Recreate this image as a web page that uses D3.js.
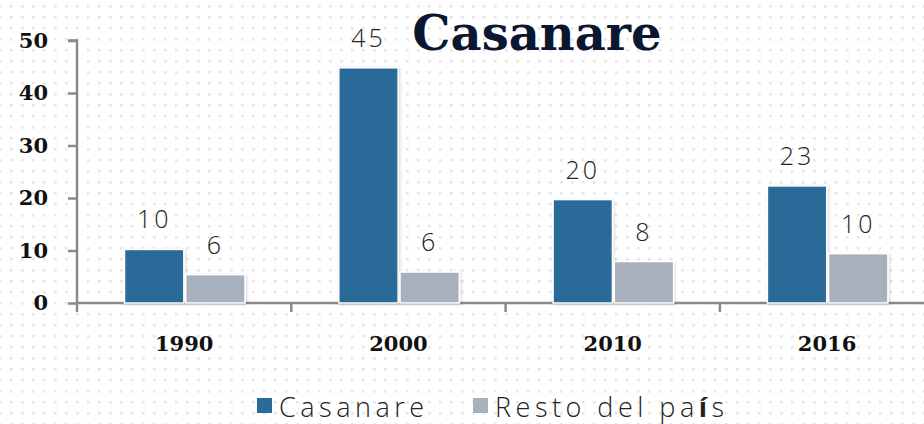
<!DOCTYPE html>
<html>
<head>
<meta charset="utf-8">
<script src="https://cdn.jsdelivr.net/npm/d3@7"></script>
<style>
  html, body { margin: 0; padding: 0; background: #fff; }
  svg { display: block; }
</style>
</head>
<body>
<div id="chart"></div>
<script>
// data
var years = ["1990", "2000", "2010", "2016"];
var seriesNames = ["Casanare", "Resto del país"];
var casanare = [10.2, 44.8, 19.7, 22.3];
var resto = [5.4, 5.9, 7.9, 9.4];
var casanareLabels = ["10", "45", "20", "23"];
var restoLabels = ["6", "6", "8", "10"];
var yTicks = [0, 10, 20, 30, 40, 50];
var colors = ["#2b6a99", "#a9b0bd"];

var width = 924;
var height = 424;

var svg = d3.select("#chart")
  .append("svg")
  .attr("width", width)
  .attr("height", height);

var defs = svg.append("defs");

// dotted background
var pat = defs.append("pattern")
  .attr("id", "dots")
  .attr("patternUnits", "userSpaceOnUse")
  .attr("x", 10).attr("y", 5)
  .attr("width", 11).attr("height", 11);
pat.append("rect").attr("width", 3).attr("height", 3).attr("fill", "#f1f1f1");
pat.append("rect").attr("width", 2).attr("height", 2).attr("fill", "#e6e6e6");

// faint shadow under bars
var f = defs.append("filter").attr("id", "shadow")
  .attr("x", "-20%").attr("y", "-20%").attr("width", "140%").attr("height", "140%");
f.append("feDropShadow")
  .attr("dx", 1).attr("dy", 1).attr("stdDeviation", 1.5)
  .attr("flood-color", "#000").attr("flood-opacity", 0.18);

svg.append("rect")
  .attr("width", width).attr("height", height)
  .attr("fill", "#fff");
svg.append("rect")
  .attr("width", width).attr("height", height)
  .attr("fill", "url(#dots)");

// scales
var y = d3.scaleLinear().domain([0, 50]).range([303, 40.5]);
var x0 = d3.scaleBand().domain(years).range([77, 77 + 214.3 * 4]);
var x1 = d3.scaleBand().domain(seriesNames).range([47.5, 168]).paddingInner(0.03);

// y axis
var yAxis = svg.append("g")
  .attr("transform", "translate(77,0)")
  .call(d3.axisLeft(y).tickValues(yTicks).tickSize(9).tickPadding(20));
yAxis.select(".domain").attr("stroke", "#8a8a8a").attr("stroke-width", 2.5)
  .attr("d", "M-9," + y(50) + "H0V" + y(0));
yAxis.selectAll(".tick line").attr("stroke", "#8a8a8a").attr("stroke-width", 2.5);
yAxis.selectAll(".tick text")
  .attr("fill", "#111")
  .style("font-family", "'DejaVu Serif', serif")
  .style("font-weight", "bold")
  .style("font-size", "21px");

// x axis
var xAxis = svg.append("g")
  .attr("transform", "translate(0,303)");
xAxis.append("line")
  .attr("x1", 77).attr("x2", width)
  .attr("stroke", "#8a8a8a").attr("stroke-width", 2.5);
xAxis.selectAll("line.tick")
  .data(years)
  .enter().append("line")
  .attr("class", "tick")
  .attr("x1", function(d) { return x0(d); })
  .attr("x2", function(d) { return x0(d); })
  .attr("y1", 0).attr("y2", 9)
  .attr("stroke", "#8a8a8a").attr("stroke-width", 2.5);
xAxis.selectAll("text")
  .data(years)
  .enter().append("text")
  .attr("x", function(d) { return x0(d) + x0.bandwidth() / 2; })
  .attr("y", 48)
  .attr("text-anchor", "middle")
  .attr("fill", "#111")
  .style("font-family", "'DejaVu Serif', serif")
  .style("font-weight", "bold")
  .style("font-size", "21px")
  .text(function(d) { return d; });

// bars
var rows = years.map(function(yr, i) {
  return [
    { year: yr, name: seriesNames[0], value: casanare[i], label: casanareLabels[i], color: colors[0] },
    { year: yr, name: seriesNames[1], value: resto[i], label: restoLabels[i], color: colors[1] }
  ];
});

var groups = svg.selectAll("g.year")
  .data(rows)
  .enter().append("g")
  .attr("class", "year")
  .attr("transform", function(d, i) { return "translate(" + x0(years[i]) + ",0)"; });

groups.selectAll("rect")
  .data(function(d) { return d; })
  .enter().append("rect")
  .attr("x", function(d) { return x1(d.name); })
  .attr("y", function(d) { return y(d.value); })
  .attr("width", x1.bandwidth())
  .attr("height", function(d) { return y(0) - y(d.value); })
  .attr("fill", function(d) { return d.color; })
  .attr("stroke", "#fff")
  .attr("stroke-width", 1.5)
  .attr("filter", "url(#shadow)");

groups.selectAll("text")
  .data(function(d) { return d; })
  .enter().append("text")
  .attr("x", function(d) { return x1(d.name) + x1.bandwidth() / 2; })
  .attr("y", function(d) { return y(d.value) - 21; })
  .attr("text-anchor", "middle")
  .attr("fill", "#222")
  .style("font-family", "'Open Sans', sans-serif")
  .style("font-weight", "300")
  .style("font-size", "25px")
  .style("letter-spacing", "3px")
  .text(function(d) { return d.label; });

// title
svg.append("text")
  .attr("x", 537)
  .attr("y", 50)
  .attr("text-anchor", "middle")
  .attr("fill", "#0b1730")
  .style("font-family", "'DejaVu Serif', serif")
  .style("font-weight", "bold")
  .style("font-size", "48px")
  .text("Casanare");

// legend
var legendX = [257, 473];
var legend = svg.selectAll("g.legend")
  .data(seriesNames)
  .enter().append("g")
  .attr("class", "legend")
  .attr("transform", function(d, i) { return "translate(" + legendX[i] + ",0)"; });
legend.append("rect")
  .attr("x", 0).attr("y", 398)
  .attr("width", 15).attr("height", 15)
  .attr("fill", function(d, i) { return colors[i]; });
var ltext = legend.append("text")
  .attr("x", 22).attr("y", 417)
  .attr("fill", "#222")
  .style("font-family", "'Open Sans', sans-serif")
  .style("font-weight", "300")
  .style("font-size", "27px")
  .style("letter-spacing", "4.5px");
ltext.filter(function(d, i) { return i == 0; }).text(function(d) { return d; });
// "í" is drawn bold in the picture
var rtext = ltext.filter(function(d, i) { return i == 1; });
rtext.append("tspan").text("Resto del pa");
rtext.append("tspan").style("font-weight", "bold").text("í");
rtext.append("tspan").text("s");
</script>
</body>
</html>
